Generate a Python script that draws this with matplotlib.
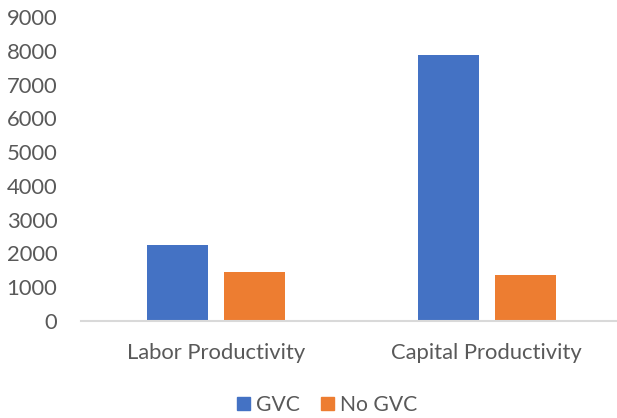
import matplotlib
matplotlib.use("Agg")
import matplotlib.pyplot as plt
import numpy as np
from matplotlib.patches import Patch

categories = ["Labor Productivity", "Capital Productivity"]
series_names = ["GVC", "No GVC"]
gvc = [2250, 7880]
no_gvc = [1455, 1370]
yticks = [0, 1000, 2000, 3000, 4000, 5000, 6000, 7000, 8000, 9000]

colors = ["#4472C4", "#ED7D31"]
text_color = "#595959"

plt.rcParams["font.family"] = ["Lato", "DejaVu Sans"]

fig = plt.figure(figsize=(6.17, 4.18), dpi=100)
W, H = 617, 418
left, right, top, bottom = 81, 617, 17, 321
ax = fig.add_axes([left / W, 1 - bottom / H, (right - left) / W, (bottom - top) / H])

x = np.arange(len(categories))
width = 0.2255
offset = 0.142
ax.bar(x - offset, gvc, width, color=colors[0], label=series_names[0])
ax.bar(x + offset, no_gvc, width, color=colors[1], label=series_names[1])

ax.set_xlim(-0.5, 1.5 - 5 / 270.5)
ax.set_ylim(0, 9000)
ax.set_yticks(yticks)
ax.set_yticklabels([str(v) for v in yticks])
ax.set_xticks(x)
ax.set_xticklabels(categories)

for s in ["top", "right", "left"]:
    ax.spines[s].set_visible(False)
ax.spines["bottom"].set_color("#D9D9D9")
ax.spines["bottom"].set_linewidth(1.5)
ax.tick_params(axis="both", length=0, labelsize=15.8, colors=text_color)
ax.tick_params(axis="y", pad=17)
ax.tick_params(axis="x", pad=16)

handles = [Patch(color=c) for c in colors]
fig.legend(handles, series_names, loc="center", bbox_to_anchor=(327 / W, 1 - 405 / H),
           ncol=2, frameon=False, fontsize=15.2, labelcolor=text_color,
           handlelength=0.6, handleheight=0.6, handletextpad=0.3, columnspacing=1.0)

fig.savefig("out.png", dpi=100)
